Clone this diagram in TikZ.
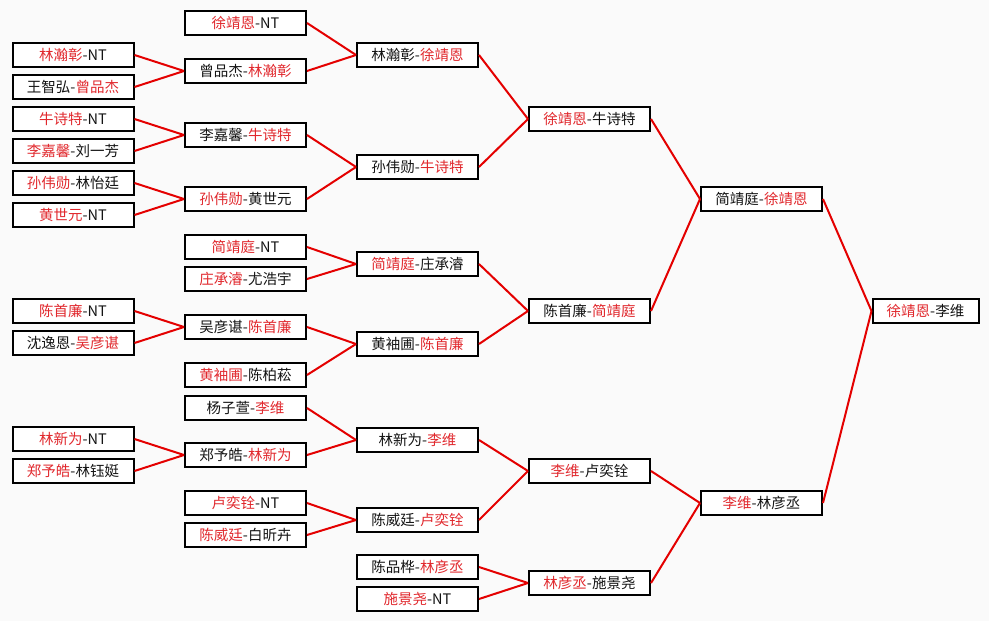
\documentclass[tikz,border=0pt]{standalone}
\usepackage{fontspec}
\setmainfont{Noto Sans CJK SC}
\definecolor{bgc}{RGB}{250,250,250}
\definecolor{wtxt}{RGB}{225,40,45}
\definecolor{lnc}{RGB}{228,0,0}
\definecolor{txt}{RGB}{20,20,20}
\newcommand{\W}[1]{\textcolor{wtxt}{#1}}
\tikzset{
  mbox/.style={draw=black, line width=2pt, fill=white, minimum width=121pt, minimum height=23.5pt,
    inner sep=0pt, text=txt, font=\fontsize{14.5}{16}\selectfont},
  wide/.style={minimum width=106pt},
  link/.style={draw=lnc, line width=2pt}
}
\begin{document}
\begin{tikzpicture}[x=1pt,y=-1pt]
\fill[bgc] (0,0) rectangle (989,621);
\useasboundingbox (0,0) rectangle (989,621);
% column 1
\node[mbox] (a1) at (73,55) {\W{林瀚彰}-NT};
\node[mbox] (a2) at (73,87) {王智弘-\W{曾品杰}};
\node[mbox] (a3) at (73,119) {\W{牛诗特}-NT};
\node[mbox] (a4) at (73,151) {\W{李嘉馨}-刘一芳};
\node[mbox] (a5) at (73,183) {\W{孙伟勋}-林怡廷};
\node[mbox] (a6) at (73,215) {\W{黄世元}-NT};
\node[mbox] (a7) at (73,311) {\W{陈首廉}-NT};
\node[mbox] (a8) at (73,343) {沈逸恩-\W{吴彦谌}};
\node[mbox] (a9) at (73,439) {\W{林新为}-NT};
\node[mbox] (a10) at (73,471) {\W{郑予皓}-林钰娗};
% column 2
\node[mbox] (b1) at (245.5,23) {\W{徐靖恩}-NT};
\node[mbox] (b2) at (245.5,71) {曾品杰-\W{林瀚彰}};
\node[mbox] (b3) at (245.5,135) {李嘉馨-\W{牛诗特}};
\node[mbox] (b4) at (245.5,199) {\W{孙伟勋}-黄世元};
\node[mbox] (b5) at (245.5,247) {\W{简靖庭}-NT};
\node[mbox] (b6) at (245.5,279) {\W{庄承濬}-尤浩宇};
\node[mbox] (b7) at (245.5,327) {吴彦谌-\W{陈首廉}};
\node[mbox] (b8) at (245.5,375) {\W{黄袖圃}-陈柏菘};
\node[mbox] (b9) at (245.5,408) {杨子萱-\W{李维}};
\node[mbox] (b10) at (245.5,455) {郑予皓-\W{林新为}};
\node[mbox] (b11) at (245.5,503) {\W{卢奕铨}-NT};
\node[mbox] (b12) at (245.5,535) {\W{陈威廷}-白昕卉};
% column 3
\node[mbox] (c1) at (417.5,55) {林瀚彰-\W{徐靖恩}};
\node[mbox] (c2) at (417.5,167) {孙伟勋-\W{牛诗特}};
\node[mbox] (c3) at (417.5,264) {\W{简靖庭}-庄承濬};
\node[mbox] (c4) at (417.5,344) {黄袖圃-\W{陈首廉}};
\node[mbox] (c5) at (417.5,440) {林新为-\W{李维}};
\node[mbox] (c6) at (417.5,520) {陈威廷-\W{卢奕铨}};
\node[mbox] (c7) at (417.5,567) {陈品桦-\W{林彦丞}};
\node[mbox] (c8) at (417.5,599) {\W{施景尧}-NT};
% column 4
\node[mbox] (d1) at (589.5,119) {\W{徐靖恩}-牛诗特};
\node[mbox] (d2) at (589.5,311) {陈首廉-\W{简靖庭}};
\node[mbox] (d3) at (589.5,471) {\W{李维}-卢奕铨};
\node[mbox] (d4) at (589.5,583) {\W{林彦丞}-施景尧};
% column 5
\node[mbox] (e1) at (761.5,199) {简靖庭-\W{徐靖恩}};
\node[mbox] (e2) at (761.5,503) {\W{李维}-林彦丞};
% column 6
\node[mbox,wide] (f1) at (925.5,311) {\W{徐靖恩}-李维};
% connectors
\draw[link] (a1.east) -- (b2.west);
\draw[link] (a2.east) -- (b2.west);
\draw[link] (a3.east) -- (b3.west);
\draw[link] (a4.east) -- (b3.west);
\draw[link] (a5.east) -- (b4.west);
\draw[link] (a6.east) -- (b4.west);
\draw[link] (a7.east) -- (b7.west);
\draw[link] (a8.east) -- (b7.west);
\draw[link] (a9.east) -- (b10.west);
\draw[link] (a10.east) -- (b10.west);
\draw[link] (b1.east) -- (c1.west);
\draw[link] (b2.east) -- (c1.west);
\draw[link] (b3.east) -- (c2.west);
\draw[link] (b4.east) -- (c2.west);
\draw[link] (b5.east) -- (c3.west);
\draw[link] (b6.east) -- (c3.west);
\draw[link] (b7.east) -- (c4.west);
\draw[link] (b8.east) -- (c4.west);
\draw[link] (b9.east) -- (c5.west);
\draw[link] (b10.east) -- (c5.west);
\draw[link] (b11.east) -- (c6.west);
\draw[link] (b12.east) -- (c6.west);
\draw[link] (c1.east) -- (d1.west);
\draw[link] (c2.east) -- (d1.west);
\draw[link] (c3.east) -- (d2.west);
\draw[link] (c4.east) -- (d2.west);
\draw[link] (c5.east) -- (d3.west);
\draw[link] (c6.east) -- (d3.west);
\draw[link] (c7.east) -- (d4.west);
\draw[link] (c8.east) -- (d4.west);
\draw[link] (d1.east) -- (e1.west);
\draw[link] (d2.east) -- (e1.west);
\draw[link] (d3.east) -- (e2.west);
\draw[link] (d4.east) -- (e2.west);
\draw[link] (e1.east) -- (f1.west);
\draw[link] (e2.east) -- (f1.west);
\end{tikzpicture}
\end{document}
